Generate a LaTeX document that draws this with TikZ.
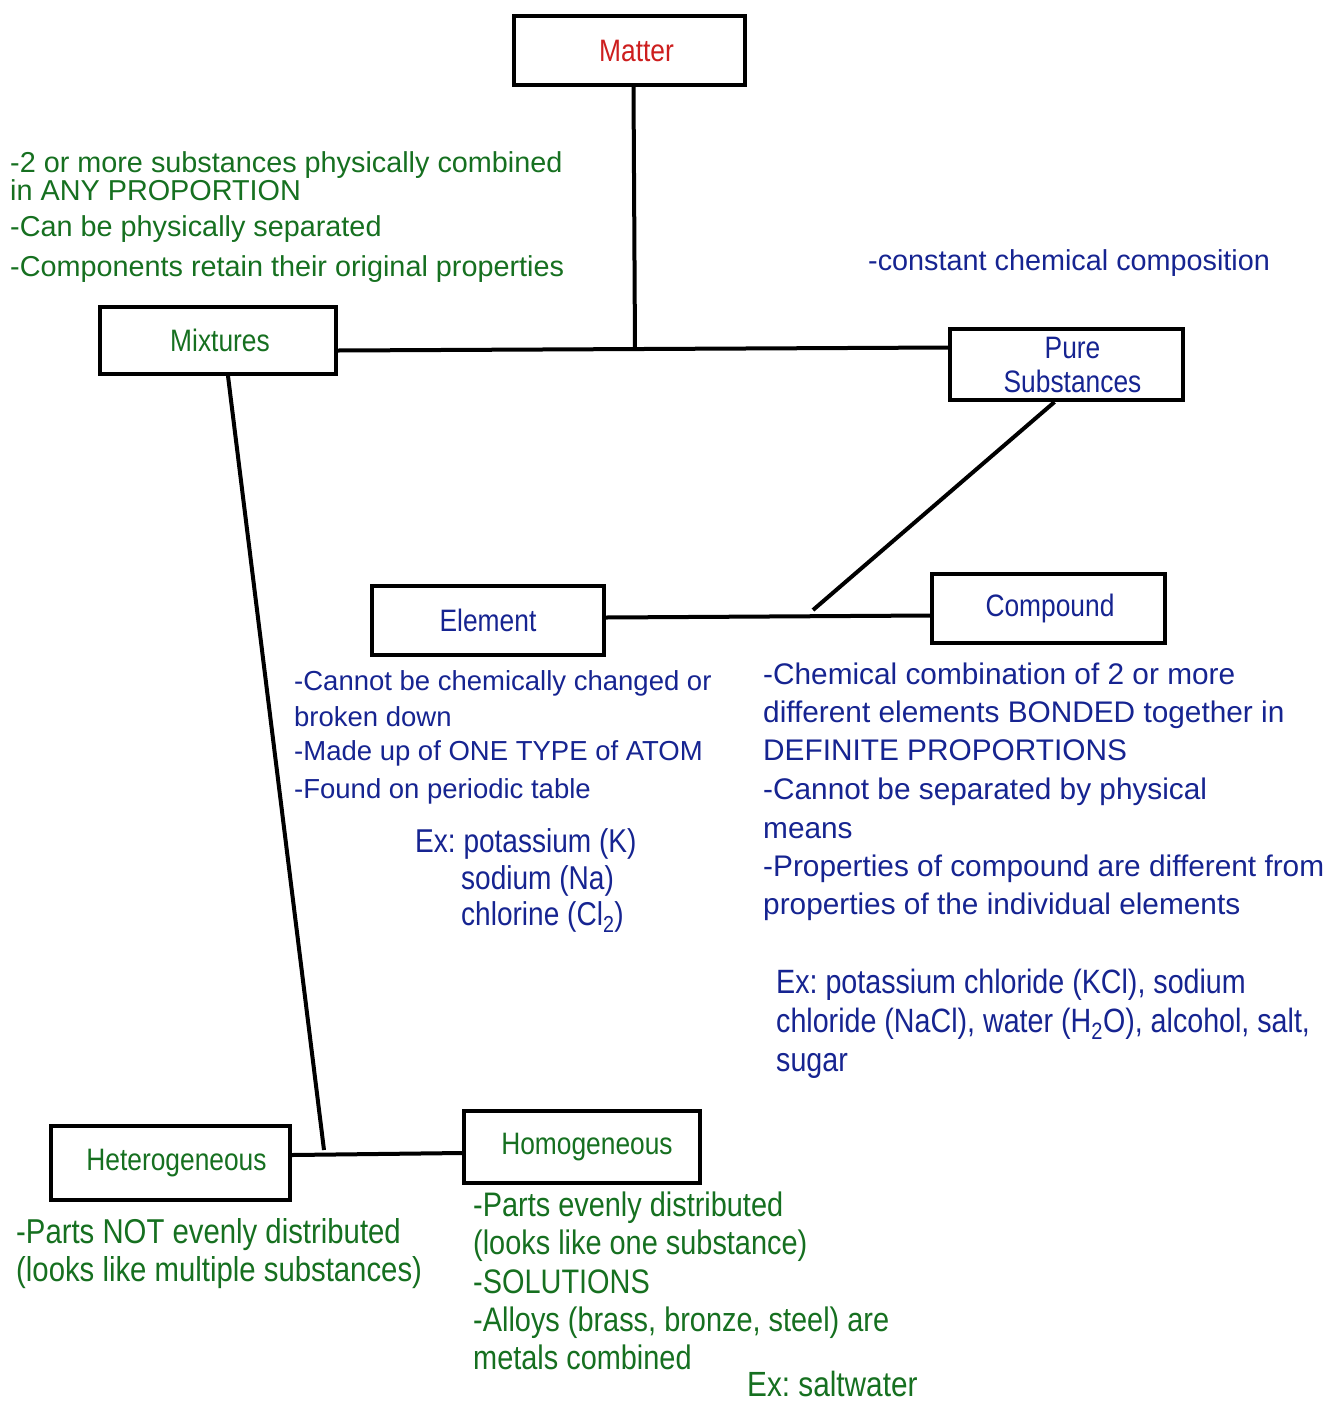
\documentclass[tikz,border=0pt]{standalone}
\usepackage{fontspec}
\setmainfont{Liberation Sans}
\newfontfamily\cond[FakeStretch=0.85]{Liberation Sans}
\usetikzlibrary{calc}
\definecolor{mgreen}{RGB}{22,112,32}
\definecolor{mblue}{RGB}{22,36,145}
\definecolor{mred}{RGB}{205,30,30}
\begin{document}
\frenchspacing
\begin{tikzpicture}[x=1pt,y=-1pt,
  box/.style={draw=black, line width=4pt, inner sep=0pt, align=center,
    font=\cond\fontsize{31}{34}\selectfont},
  conn/.style={draw=black, line width=4pt},
  gtxt/.style={anchor=base west, inner sep=0pt, text=mgreen, font=\fontsize{28.8}{34}\selectfont},
  btxt/.style={anchor=base west, inner sep=0pt, text=mblue},
  ctxt/.style={anchor=base west, inner sep=0pt}
]
\useasboundingbox[fill=white] (0,0) rectangle (1335,1403);

% boxes
\node[box, text=mred, minimum width=231, minimum height=69] (matter) at (629.5,50.5) {\hspace*{14pt}Matter};
\node[box, text=mgreen, minimum width=236, minimum height=67] (mixtures) at (218,340.5) {\hspace*{4pt}Mixtures};
\node[box, text=mblue, minimum width=233, minimum height=71] (pure) at (1066.5,364.5) {\hspace*{12pt}Pure\\\hspace*{12pt}Substances};
\node[box, text=mblue, minimum width=232, minimum height=69] (element) at (488,620.5) {Element};
\node[box, text=mblue, minimum width=233, minimum height=69] (compound) at (1048.5,608.5) {\hspace*{3pt}Compound};
\node[box, text=mgreen, minimum width=239, minimum height=74] (hetero) at (170.5,1163) {\hspace*{12pt}Heterogeneous};
\node[box, text=mgreen, minimum width=236, minimum height=72] (homo) at (582,1147) {\hspace*{10pt}Homogeneous};

% junction points
\coordinate (j1) at (635,349);
\coordinate (j2) at (813,610);
\coordinate (j3) at (324,1150);

% connectors
\draw[conn] ($(matter.south)+(4,0)$) -- (j1);
\draw[conn] ($(mixtures.east)+(0,10)$) -- ($(pure.west)+(0,-17)$);
\draw[conn] ($(pure.south)+(-12,0)$) -- (j2);
\draw[conn] ($(element.east)+(0,-3)$) -- ($(compound.west)+(0,7)$);
\draw[conn] ($(mixtures.south)+(10,0)$) -- (j3);
\draw[conn] ($(hetero.east)+(0,-8)$) -- ($(homo.west)+(0,6)$);

% mixtures description
\node[gtxt] (g1) at (10,172) {-2 or more substances physically combined};
\node[gtxt] (g2) at (10,200) {in ANY PROPORTION};
\node[gtxt] (g3) at (10,236) {-Can be physically separated};
\node[gtxt] (g4) at (10,276) {-Components retain their original properties};

% pure substances description
\node[btxt, font=\fontsize{28.8}{34}\selectfont] (p1) at (868,270) {-constant chemical composition};

% element description
\node[btxt, font=\fontsize{27.5}{34}\selectfont] (e1) at (294,690) {-Cannot be chemically changed or};
\node[btxt, font=\fontsize{27.5}{34}\selectfont] (e2) at (294,726) {broken down};
\node[btxt, font=\fontsize{27.5}{34}\selectfont] (e3) at (294,760) {-Made up of ONE TYPE of ATOM};
\node[btxt, font=\fontsize{27.5}{34}\selectfont] (e4) at (294,798) {-Found on periodic table};
\node[btxt, font=\cond\fontsize{33}{37}\selectfont] (ex1) at (415,852) {Ex: potassium (K)};
\node[btxt, font=\cond\fontsize{33}{37}\selectfont] (ex2) at (461,889) {sodium (Na)};
\node[btxt, font=\cond\fontsize{33}{37}\selectfont] (ex3) at (461,925) {chlorine (Cl\textsubscript{2})};

% compound description
\node[btxt, font=\fontsize{29.8}{38}\selectfont] (c1) at (763,684) {-Chemical combination of 2 or more};
\node[btxt, font=\fontsize{29.8}{38}\selectfont] (c2) at (763,722) {different elements BONDED together in};
\node[btxt, font=\fontsize{29.8}{38}\selectfont] (c3) at (763,760) {DEFINITE PROPORTIONS};
\node[btxt, font=\fontsize{29.8}{38}\selectfont] (c4) at (763,799) {-Cannot be separated by physical};
\node[btxt, font=\fontsize{29.8}{38}\selectfont] (c5) at (763,838) {means};
\node[btxt, font=\fontsize{29.8}{38}\selectfont] (c6) at (763,876) {-Properties of compound are different from};
\node[btxt, font=\fontsize{29.8}{38}\selectfont] (c7) at (763,914) {properties of the individual elements};
\node[btxt, font=\cond\fontsize{33.7}{39}\selectfont] (cx1) at (776,993) {Ex: potassium chloride (KCl), sodium};
\node[btxt, font=\cond\fontsize{33.7}{39}\selectfont] (cx2) at (776,1032) {chloride (NaCl), water (H\textsubscript{2}O), alcohol, salt,};
\node[btxt, font=\cond\fontsize{33.7}{39}\selectfont] (cx3) at (776,1071) {sugar};

% heterogeneous description
\node[ctxt, text=mgreen, font=\cond\fontsize{34.5}{38}\selectfont] (h1) at (16,1243) {-Parts NOT evenly distributed};
\node[ctxt, text=mgreen, font=\cond\fontsize{34.5}{38}\selectfont] (h2) at (16,1281) {(looks like multiple substances)};

% homogeneous description
\node[ctxt, text=mgreen, font=\cond\fontsize{34}{38}\selectfont] (o1) at (473,1216) {-Parts evenly distributed};
\node[ctxt, text=mgreen, font=\cond\fontsize{34}{38}\selectfont] (o2) at (473,1254) {(looks like one substance)};
\node[ctxt, text=mgreen, font=\cond\fontsize{34}{38}\selectfont] (o3) at (473,1293) {-SOLUTIONS};
\node[ctxt, text=mgreen, font=\cond\fontsize{34}{38}\selectfont] (o4) at (473,1331) {-Alloys (brass, bronze, steel) are};
\node[ctxt, text=mgreen, font=\cond\fontsize{34}{38}\selectfont] (o5) at (473,1369) {metals combined};
\node[ctxt, text=mgreen, font=\cond\fontsize{35}{38}\selectfont] (o6) at (747,1396) {Ex: saltwater};
\end{tikzpicture}
\end{document}
